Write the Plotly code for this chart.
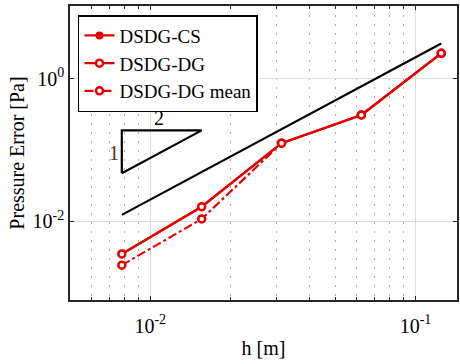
import numpy as np
import plotly.graph_objects as go

# Mesh size and pressure errors
h = [1 / 128, 1 / 64, 1 / 32, 1 / 16, 1 / 8]
err_cs = [0.00345, 0.0159, 0.124, 0.309, 2.27]
err_dg = [0.00345, 0.0159, 0.124, 0.309, 2.27]
err_dg_mean = [0.0024, 0.0107, 0.124, 0.309, 2.27]

# Second-order reference line  C * h^2
ref_coef = 200.0
ref_h = [1 / 128, 1 / 8]
ref_err = [ref_coef * v ** 2 for v in ref_h]

# Slope triangle (run 2x in h, rise 4x in error)
tri_h = [1 / 128, 1 / 128, 1 / 64, 1 / 128]
tri_err = [0.047, 0.188, 0.188, 0.047]

RED = "#e30000"
FONT = "Liberation Serif, Times New Roman, serif"

fig = go.Figure()

fig.add_trace(go.Scatter(x=ref_h, y=ref_err, mode="lines",
                         line=dict(color="black", width=2.2), showlegend=False))
fig.add_trace(go.Scatter(x=tri_h, y=tri_err, mode="lines",
                         line=dict(color="black", width=2.2), showlegend=False))

fig.add_trace(go.Scatter(x=h, y=err_cs, mode="lines+markers", name="DSDG-CS",
                         line=dict(color=RED, width=2.2),
                         marker=dict(symbol="circle", size=8, color=RED)))
fig.add_trace(go.Scatter(x=h, y=err_dg, mode="lines+markers", name="DSDG-DG",
                         line=dict(color=RED, width=2.2),
                         marker=dict(symbol="circle", size=7, color="white",
                                     line=dict(color=RED, width=2.5))))
fig.add_trace(go.Scatter(x=h, y=err_dg_mean, mode="lines+markers", name="DSDG-DG mean",
                         line=dict(color=RED, width=2.2, dash="dashdot"),
                         marker=dict(symbol="circle", size=7, color="white",
                                     line=dict(color=RED, width=2.5))))

fig.add_annotation(x=np.log10(0.01083), y=np.log10(0.28), text="2", showarrow=False,
                   font=dict(family=FONT, size=20, color="black"))
fig.add_annotation(x=np.log10(0.00729), y=np.log10(0.0904), text="1", showarrow=False,
                   font=dict(family=FONT, size=20, color="#5a2a12"))

x_minor = [k * 1e-3 for k in range(5, 10)] + [k * 1e-2 for k in range(2, 10)]

fig.update_xaxes(
    type="log", range=[-2.3025, -0.8437],
    tickvals=[1e-2, 1e-1], ticktext=["10<sup>-2</sup>", "10<sup>-1</sup>"],
    ticks="inside", ticklen=4, tickwidth=1.2, tickcolor="#262626",
    showline=True, linecolor="#262626", linewidth=1.5, mirror="allticks",
    showgrid=True, gridcolor="#dcdcdc", gridwidth=1.2,
    minor=dict(tickvals=x_minor, ticks="inside", ticklen=3, tickcolor="#262626",
               showgrid=True, gridcolor="#b0b0b0", griddash="1.5px,7.5px", gridwidth=1.2),
    title=dict(text="h [m]", font=dict(family=FONT, size=20, color="black"), standoff=5),
    tickfont=dict(family=FONT, size=20, color="black"),
    ticklabelstandoff=7, zeroline=False,
)
fig.update_yaxes(
    type="log", range=[-3.109, 1.021],
    tickvals=[1e-2, 1e0], ticktext=["10<sup>-2</sup>", "10<sup>0</sup>"],
    ticks="inside", ticklen=4, tickwidth=1.2, tickcolor="#262626",
    showline=True, linecolor="#262626", linewidth=1.5, mirror="allticks",
    showgrid=True, gridcolor="#dcdcdc", gridwidth=1.2,
    title=dict(text="Pressure Error [Pa]", font=dict(family=FONT, size=20, color="black"),
               standoff=3),
    tickfont=dict(family=FONT, size=20, color="black"),
    zeroline=False,
)

fig.update_layout(
    width=460, height=364,
    margin=dict(l=70, r=1, t=6, b=64),
    paper_bgcolor="white", plot_bgcolor="white",
    font=dict(family=FONT, size=20, color="black"),
    legend=dict(x=0.0206, y=0.969, xanchor="left", yanchor="top",
                bgcolor="white", bordercolor="black", borderwidth=1.5,
                font=dict(family=FONT, size=19, color="black"),
                tracegroupgap=0, itemwidth=30),
)

fig.write_html("out.html")
